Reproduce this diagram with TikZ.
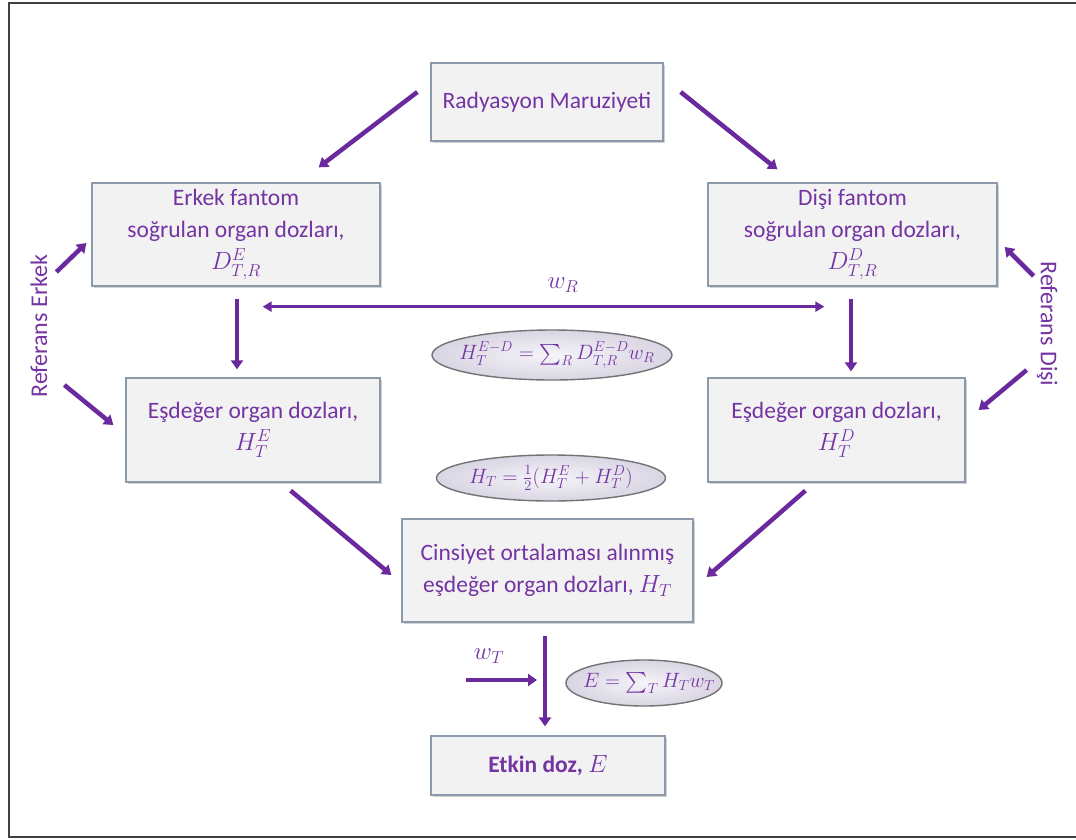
\documentclass[tikz,border=0pt]{standalone}
\usepackage{amsmath}
\usepackage{fontspec}
\setmainfont{Carlito}
\usetikzlibrary{arrows.meta,shadows,shapes.geometric}
\definecolor{pur}{HTML}{7434A3}
\definecolor{arrc}{HTML}{6A2A9E}
\definecolor{boxfill}{HTML}{F2F2F2}
\definecolor{boxline}{HTML}{8C99A8}
\definecolor{ellout}{HTML}{D9D5E3}
\definecolor{ellin}{HTML}{F5F4F8}
\begin{document}
\begin{tikzpicture}[x=1pt,y=-1pt,
  box/.style={draw=boxline, line width=1.3pt, fill=boxfill, text=pur, align=center,
    font=\fontsize{23.5}{32}\selectfont, inner sep=0pt,
    drop shadow={shadow xshift=2pt, shadow yshift=-2pt, opacity=0.35, fill=black!50}},
  ell/.style={ellipse, draw=black!55, line width=1.4pt, inner color=ellin, outer color=ellout, inner sep=0pt},
  etext/.style={text=pur, font=\fontsize{21.5}{26}\selectfont, inner sep=0pt},
  arr/.style={draw=arrc, line width=4.5pt, -{Triangle[length=9pt,width=12pt]}},
  thinarr/.style={draw=arrc, line width=3pt, {Triangle[length=9pt,width=10pt]}-{Triangle[length=9pt,width=10pt]}},
  lbl/.style={text=pur, font=\fontsize{24}{28}\selectfont, inner sep=0pt}
]
\useasboundingbox (0,0) rectangle (1076,839);
\fill[white] (0,0) rectangle (1076,839);
\draw[line width=2.2pt, black!75] (1080,3) -- (9,3) -- (9,837) -- (1080,837);

\node[box, minimum width=232pt, minimum height=78pt] (rad) at (547,102) {Radyasyon Maruziyeti};
\node[box, minimum width=288pt, minimum height=103pt] (erk) at (236,234.5)
  {Erkek fantom\\soğrulan organ dozları,\\$D^{E}_{T,R}$};
\node[box, minimum width=289pt, minimum height=103pt] (dis) at (852.5,234.5)
  {Dişi fantom\\soğrulan organ dozları,\\$D^{D}_{T,R}$};
\node[box, minimum width=254pt, minimum height=104pt] (esl) at (253,430)
  {Eşdeğer organ dozları,\\$H^{E}_{T}$};
\node[box, minimum width=257pt, minimum height=104pt] (esr) at (836.5,430)
  {Eşdeğer organ dozları,\\$H^{D}_{T}$};
\node[box, minimum width=291pt, minimum height=103pt] (cin) at (547.5,570.5)
  {Cinsiyet ortalaması alınmış\\eşdeğer organ dozları, $H_{T}$};
\node[box, minimum width=234pt, minimum height=59pt] (etk) at (548,765.5)
  {\textbf{Etkin doz,} $E$};

\node[ell, minimum width=240pt, minimum height=50pt] (el1) at (552,355) {};
\node[etext] (el1t) at ([xshift=5pt]el1.center) {$H^{E-D}_{T}=\sum\nolimits_{R} D^{E-D}_{T,R}w_{R}$};
\node[ell, minimum width=229pt, minimum height=46pt] (el2) at (551,478) {};
\node[etext] (el2t) at (el2.center) {$H_{T}=\frac{1}{2}(H^{E}_{T}+H^{D}_{T})$};
\node[ell, minimum width=156pt, minimum height=46pt] (el3) at (644,683) {};
\node[etext] (el3t) at ([xshift=5pt]el3.center) {$E=\sum\nolimits_{T} H_{T}w_{T}$};

\node[lbl, rotate=90] (refe) at (39,326) {Referans Erkek};
\node[lbl, rotate=-90] (refd) at (1047,324) {Referans Dişi};
\node[lbl] (wr) at (563,285) {$w_{R}$};
\node[lbl] (wt) at (489,656) {$w_{T}$};

% arrows
\draw[arr] ([xshift=-13pt,yshift=10pt]rad.west) -- ([xshift=-62pt,yshift=15pt]erk.north east);
\draw[arr] ([xshift=17pt,yshift=10pt]rad.east) -- ([xshift=70pt,yshift=13pt]dis.north west);
\draw[arr] ([xshift=1pt,yshift=-12pt]erk.south) -- ([xshift=-16pt,yshift=8pt]esl.north);
\draw[arr] ([xshift=-1.5pt,yshift=-12pt]dis.south) -- ([xshift=14.5pt,yshift=6pt]esr.north);
\draw[thinarr] ([xshift=-118pt,yshift=-20pt]erk.south east) -- ([xshift=117pt,yshift=-20pt]dis.south west);
\draw[arr] ([xshift=-90pt,yshift=-8pt]esl.south east) -- ([xshift=-10pt,yshift=-4.5pt]cin.west);
\draw[arr] ([xshift=98pt,yshift=-8pt]esr.south west) -- ([xshift=13pt,yshift=-6.5pt]cin.east);
\draw[arr] ([xshift=-2.5pt,yshift=-13pt]cin.south) -- ([xshift=-3pt,yshift=9pt]etk.north);
\coordinate (wt1) at (466,680);
\coordinate (wt2) at (537,680);
\draw[arr] (wt1) -- (wt2);
\draw[arr] ([xshift=-35pt,yshift=-37.5pt]erk.west) -- ([xshift=-5pt,yshift=-8.5pt]erk.west);
\draw[arr] ([xshift=-61pt,yshift=45pt]esl.west) -- ([xshift=-12pt,yshift=5pt]esl.west);
\draw[arr] ([xshift=36pt,yshift=-41.5pt]dis.east) -- ([xshift=7pt,yshift=-12.5pt]dis.east);
\draw[arr] ([xshift=61pt,yshift=60pt]esr.east) -- ([xshift=13pt,yshift=20pt]esr.east);
\end{tikzpicture}
\end{document}
